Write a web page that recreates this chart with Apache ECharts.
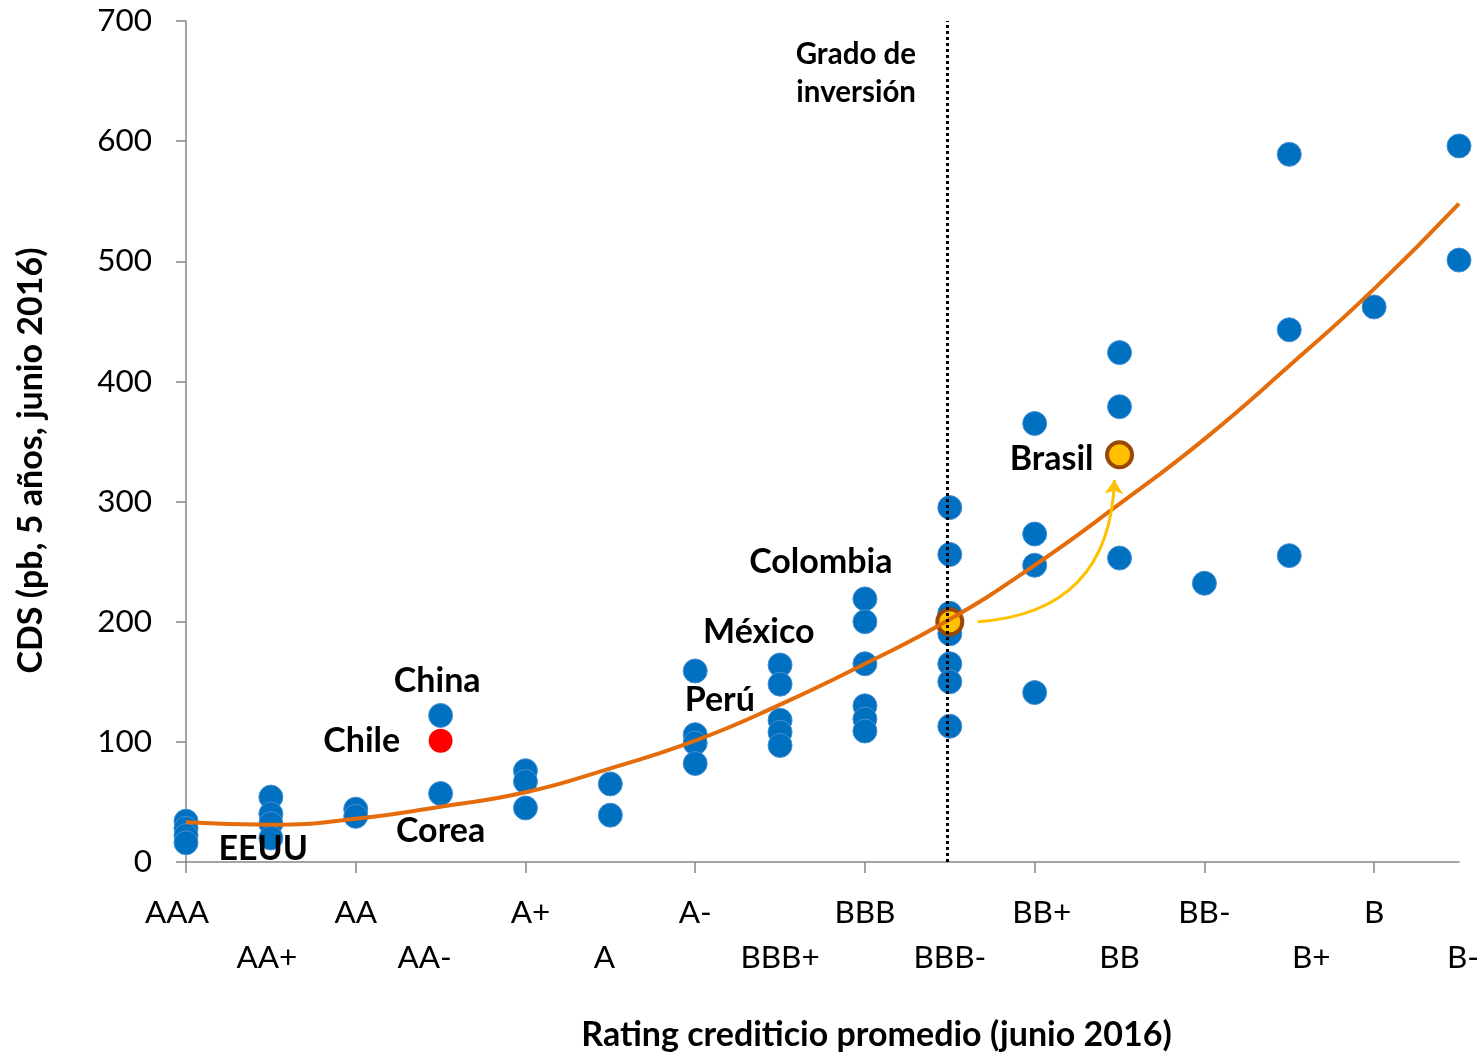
<!DOCTYPE html>
<html><head><meta charset="utf-8">
<script src="https://cdn.jsdelivr.net/npm/echarts@6/dist/echarts.min.js"></script>
<style>html,body{margin:0;padding:0;background:#fff}#c{width:1484px;height:1058px}</style>
</head><body><div id="c"></div>
<script>
// Rating categories (x index 0..15)
const ratings = ['AAA','AA+','AA','AA-','A+','A','A-','BBB+','BBB','BBB-','BB+','BB','BB-','B+','B','B-'];
const yTicks = [0,100,200,300,400,500,600,700];

// CDS values (pb) per rating
const cdsAAA  = [34, 28, 22, 16];
const cdsAAp  = [54, 40, 32, 20];
const cdsAA   = [44, 38];
const cdsAAm  = [122, 57];      // China, Corea
const cdsAp   = [76, 67, 45];
const cdsA    = [65, 39];
const cdsAm   = [159, 106, 99, 82];
const cdsBBBp = [164, 148, 118, 108, 97];
const cdsBBB  = [219, 200, 165, 130, 119, 109];
const cdsBBBm = [295, 256, 207, 190, 165, 150, 113];
const cdsBBp  = [365, 273, 247, 141];
const cdsBB   = [424, 379, 253];
const cdsBBm  = [232];
const cdsBp   = [589, 443, 255];
const cdsB    = [462];
const cdsBm   = [596, 501];

const chileValue = 101;               // AA-
const brasilBefore = 200;             // BBB-
const brasilNow = 339;                // BB

// Trend curve values read at each rating
const trendValues = [33, 31, 36, 46, 58, 78, 101, 131, 165, 202, 247, 298, 352, 413, 477, 548];

const investmentGrade = 8.97;

const groups = [cdsAAA,cdsAAp,cdsAA,cdsAAm,cdsAp,cdsA,cdsAm,cdsBBBp,cdsBBB,cdsBBBm,cdsBBp,cdsBB,cdsBBm,cdsBp,cdsB,cdsBm];
const bluePts = [];
groups.forEach((g,i)=>g.forEach(v=>bluePts.push([i,v])));

const countryLabels = [
  {name:'EEUU', value:[0.91, 11]},
  {name:'Corea', value:[3.0, 26]},
  {name:'Chile', value:[2.07, 101]},
  {name:'China', value:[2.96, 151]},
  {name:'Perú', value:[6.29, 135]},
  {name:'México', value:[6.75, 191]},
  {name:'Colombia', value:[7.48, 250]},
  {name:'Brasil', value:[10.2, 335]}
];

// style: horizontal nudges (px) of individual tick labels, as in the original
const labelShift = {0:-9, 1:-4, 3:-16, 4:5, 5:-6, 10:7, 13:22, 15:4};

const FONT = 'Lato, "Noto Sans", sans-serif';
const rich = {};
Object.keys(labelShift).forEach(k=>{
  const s = labelShift[k];
  rich['s'+k] = {fontFamily:FONT, fontSize:31.5, color:'#000', lineHeight:45,
    padding: s>0 ? [0,0,0,2*s] : [0,-2*s,0,0]};
});

const chart = echarts.init(document.getElementById('c'), null, {renderer:'canvas'});
chart.setOption({
  animation:false,
  backgroundColor:'#fff',
  grid:{left:186, right:25, top:21, bottom:196, containLabel:false},
  xAxis:{
    type:'value', min:0, max:15, interval:1,
    name:'Rating crediticio promedio (junio 2016)', nameLocation:'middle', nameGap:156,
    nameTextStyle:{fontFamily:FONT, fontWeight:'bold', fontSize:34, color:'#000', padding:[0,0,0,108], verticalAlign:'top'},
    axisLine:{lineStyle:{color:'#868686', width:1.5}},
    axisTick:{show:true, length:11, lineStyle:{color:'#868686', width:1.5}, customValues:[0,2,4,6,8,10,12,14]},
    splitLine:{show:false},
    axisLabel:{
      margin:28, fontFamily:FONT, fontSize:31.5, color:'#000', lineHeight:45, rich:rich,
      formatter:(v)=>{
        const i=Math.round(v);
        const t = (i in labelShift) ? '{s'+i+'|'+ratings[i]+'}' : ratings[i];
        return i%2 ? '\n'+t : t;
      }
    }
  },
  yAxis:{
    type:'value', min:0, max:700, interval:100,
    name:'CDS (pb, 5 años, junio 2016)', nameLocation:'middle', nameGap:138, nameRotate:90,
    nameTextStyle:{fontFamily:FONT, fontWeight:'bold', fontSize:34, color:'#000', padding:[0,38,0,0]},
    axisLine:{show:true, lineStyle:{color:'#868686', width:1.5}},
    axisTick:{show:true, length:10, lineStyle:{color:'#868686', width:1.5}},
    splitLine:{show:false},
    axisLabel:{margin:34, fontFamily:FONT, fontSize:31.5, color:'#000',
      formatter:(v)=> yTicks.includes(v) ? String(v) : ''}
  },
  graphic:[{
    type:'text', x:916, y:35, z:10,
    style:{text:'Grado de\ninversión', fill:'#000', font:'bold 29.5px '+FONT, align:'right', lineHeight:38}
  }],
  series:[
    {
      type:'scatter', name:'paises', data:bluePts, symbolSize:24, z:2,
      itemStyle:{color:'#0070C0', borderColor:'#4A8FD6', borderWidth:1, opacity:1}
    },
    {
      type:'scatter', name:'Chile', data:[[3, chileValue]], symbolSize:24, z:3,
      itemStyle:{color:'#FF0000', opacity:1}
    },
    {
      type:'scatter', name:'Brasil', data:[[9, brasilBefore],[11, brasilNow]], symbolSize:25, z:3,
      itemStyle:{color:'#FFC000', borderColor:'#984807', borderWidth:4, opacity:1}
    },
    {
      type:'line', name:'tendencia', data:trendValues.map((v,i)=>[i,v]), smooth:true, showSymbol:false, z:4,
      lineStyle:{color:'#E46C0A', width:4}
    },
    {
      type:'lines', coordinateSystem:'cartesian2d', z:5,
      symbol:['none','arrow'], symbolSize:14,
      lineStyle:{color:'#FFC000', width:3, curveness:-0.45, opacity:1},
      data:[{coords:[[9.33, brasilBefore],[10.94, 318]]}]
    },
    {
      type:'line', name:'grado', data:[], z:6,
      markLine:{
        silent:true, symbol:['none','none'], label:{show:false},
        lineStyle:{color:'#000', type:[3,3], width:3},
        data:[{xAxis:investmentGrade}]
      }
    },
    {
      type:'scatter', name:'etiquetas', data:countryLabels, symbolSize:1, z:7,
      itemStyle:{color:'rgba(0,0,0,0)', opacity:1},
      label:{show:true, position:'inside', formatter:(p)=>p.data.name, opacity:1,
        fontFamily:FONT, fontWeight:'bold', fontSize:34, color:'#000'}
    }
  ]
});
</script></body></html>
